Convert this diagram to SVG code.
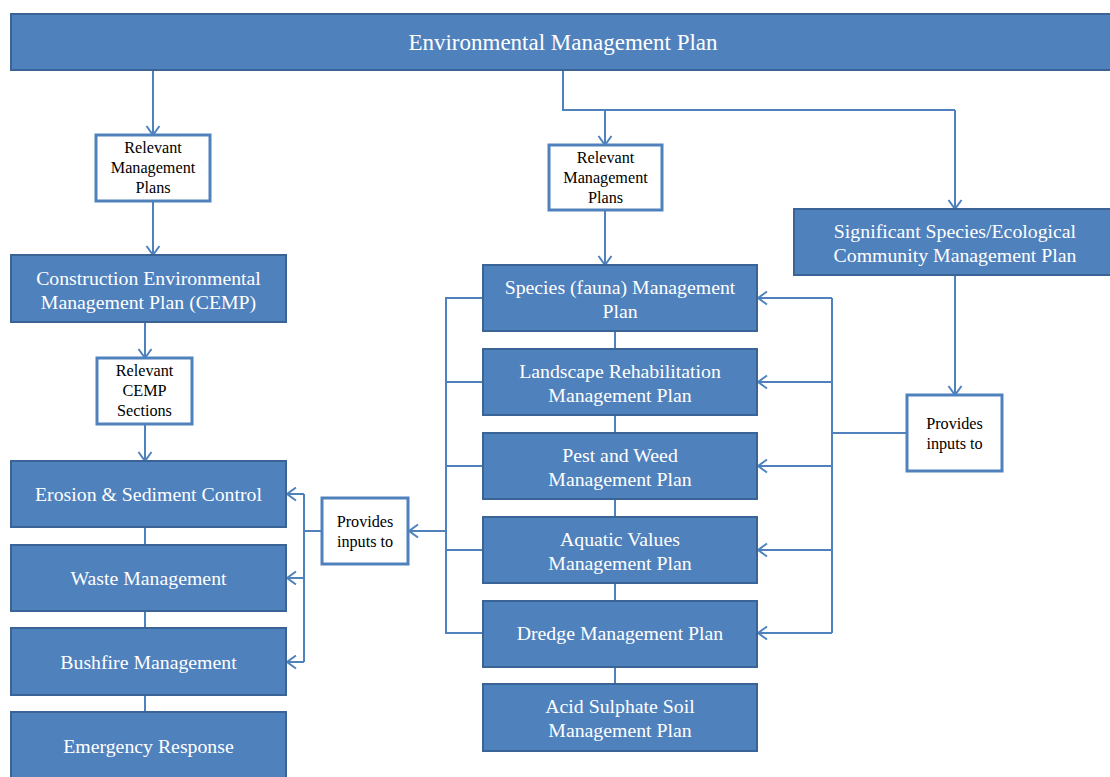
<svg xmlns="http://www.w3.org/2000/svg" width="1110" height="777" viewBox="0 0 1110 777">
<style>
.box{fill:#4F81BD;stroke:#3A6495;stroke-width:2}
.wbox{fill:#FFFFFF;stroke:#4F81BD;stroke-width:3}
.t{font-family:"Liberation Serif","Times New Roman",serif;font-size:19.8px;fill:#FFFFFF;text-anchor:middle}
.tt{font-family:"Liberation Serif","Times New Roman",serif;font-size:23px;fill:#FFFFFF;text-anchor:middle}
.w{font-family:"Liberation Serif","Times New Roman",serif;font-size:16.2px;fill:#000000;text-anchor:middle}
.c{fill:none;stroke:#4F81BD;stroke-width:2}
.a{marker-end:url(#arr)}
</style>
<defs>
<marker id="arr" markerUnits="userSpaceOnUse" markerWidth="16" markerHeight="16" refX="12" refY="8" orient="auto" viewBox="0 0 16 16">
<path d="M3,1.5 L12,8 L3,14.5" fill="none" stroke="#4F81BD" stroke-width="2"/>
</marker>
</defs>
<rect width="1110" height="777" fill="#FFFFFF"/>

<g id="connectors">
<path class="c a" d="M153,70 V135"/>
<path class="c a" d="M153,201 V255"/>
<path class="c a" d="M145,322 V358"/>
<path class="c a" d="M145,424 V461"/>
<path class="c" d="M145,527 V545 M145,611 V628 M145,695 V712"/>
<path class="c" d="M563,70 V110 H955"/>
<path class="c a" d="M605,110 V145"/>
<path class="c a" d="M605,210 V265"/>
<path class="c a" d="M955,110 V209"/>
<path class="c a" d="M955,275 V395"/>
<path class="c" d="M615,331 V349 M615,415 V433 M615,499 V517 M615,583 V601 M615,667 V684"/>
<path class="c" d="M483,298 H446 V633 H483 M446,382 H483 M446,466 H483 M446,550 H483"/>
<path class="c a" d="M446,531 H409"/>
<path class="c" d="M322,531 H304 M304,494 V662"/>
<path class="c a" d="M304,494 H287"/>
<path class="c a" d="M304,578 H287"/>
<path class="c a" d="M304,662 H287"/>
<path class="c" d="M907,433 H832 M832,298 V633"/>
<path class="c a" d="M832,298 H758"/>
<path class="c a" d="M832,382 H758"/>
<path class="c a" d="M832,466 H758"/>
<path class="c a" d="M832,550 H758"/>
<path class="c a" d="M832,633 H758"/>
</g>

<g id="emp"><rect class="box" x="11" y="14" width="1110" height="56"/><text class="tt" x="563" y="50">Environmental Management Plan</text></g>

<g id="rmp1"><rect class="wbox" x="96" y="135" width="114" height="66"/><text class="w" x="153" y="153">Relevant</text><text class="w" x="153" y="173">Management</text><text class="w" x="153" y="193">Plans</text></g>

<g id="cemp"><rect class="box" x="11" y="255" width="275" height="67"/><text class="t" x="148.5" y="285">Construction Environmental</text><text class="t" x="148.5" y="309">Management Plan (CEMP)</text></g>

<g id="rcs"><rect class="wbox" x="97" y="358" width="95" height="66"/><text class="w" x="144.5" y="376">Relevant</text><text class="w" x="144.5" y="396">CEMP</text><text class="w" x="144.5" y="416">Sections</text></g>

<g id="erosion"><rect class="box" x="11" y="461" width="275" height="66"/><text class="t" x="148.5" y="501">Erosion &amp; Sediment Control</text></g>
<g id="waste"><rect class="box" x="11" y="545" width="275" height="66"/><text class="t" x="148.5" y="585">Waste Management</text></g>
<g id="bushfire"><rect class="box" x="11" y="628" width="275" height="67"/><text class="t" x="148.5" y="669">Bushfire Management</text></g>
<g id="emergency"><rect class="box" x="11" y="712" width="275" height="80"/><text class="t" x="148.5" y="753">Emergency Response</text></g>

<g id="pit1"><rect class="wbox" x="322" y="498" width="86" height="66"/><text class="w" x="365" y="527">Provides</text><text class="w" x="365" y="547">inputs to</text></g>

<g id="rmp2"><rect class="wbox" x="549" y="145" width="113" height="65"/><text class="w" x="605.5" y="163">Relevant</text><text class="w" x="605.5" y="183">Management</text><text class="w" x="605.5" y="203">Plans</text></g>

<g id="species"><rect class="box" x="483" y="265" width="274" height="66"/><text class="t" x="620" y="294">Species (fauna) Management</text><text class="t" x="620" y="318">Plan</text></g>
<g id="landscape"><rect class="box" x="483" y="349" width="274" height="66"/><text class="t" x="620" y="378">Landscape Rehabilitation</text><text class="t" x="620" y="402">Management Plan</text></g>
<g id="pest"><rect class="box" x="483" y="433" width="274" height="66"/><text class="t" x="620" y="462">Pest and Weed</text><text class="t" x="620" y="486">Management Plan</text></g>
<g id="aquatic"><rect class="box" x="483" y="517" width="274" height="66"/><text class="t" x="620" y="546">Aquatic Values</text><text class="t" x="620" y="570">Management Plan</text></g>
<g id="dredge"><rect class="box" x="483" y="601" width="274" height="66"/><text class="t" x="620" y="640">Dredge Management Plan</text></g>
<g id="acid"><rect class="box" x="483" y="684" width="274" height="67"/><text class="t" x="620" y="713">Acid Sulphate Soil</text><text class="t" x="620" y="737">Management Plan</text></g>

<g id="significant"><rect class="box" x="794" y="209" width="330" height="66"/><text class="t" x="955" y="238">Significant Species/Ecological</text><text class="t" x="955" y="262">Community Management Plan</text></g>

<g id="pit2"><rect class="wbox" x="907" y="395" width="95" height="76"/><text class="w" x="954.5" y="429">Provides</text><text class="w" x="954.5" y="449">inputs to</text></g>
</svg>
